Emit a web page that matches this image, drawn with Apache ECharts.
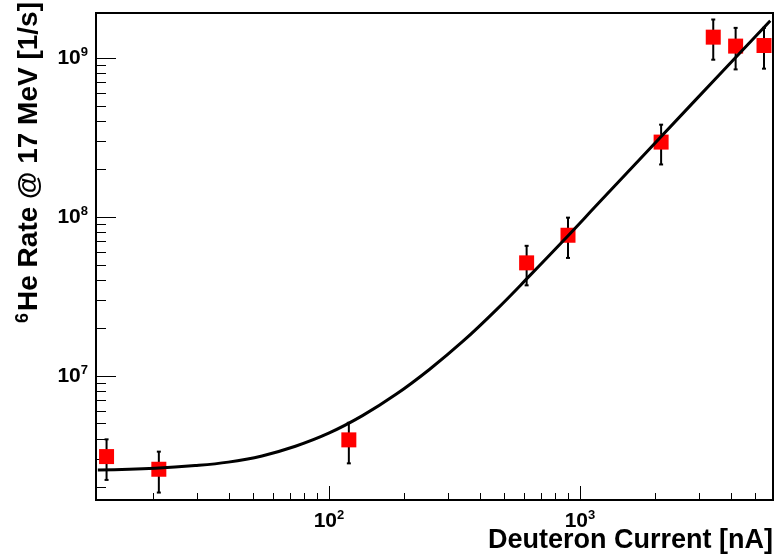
<!DOCTYPE html>
<html>
<head>
<meta charset="utf-8">
<script src="https://cdn.jsdelivr.net/npm/echarts@6/dist/echarts.min.js"></script>
<style>
html, body { margin: 0; padding: 0; background: #fff; }
#main { width: 776px; height: 560px; }
</style>
</head>
<body>
<div id="main"></div>
<script>
// measured points: deuteron current [nA] vs 6He rate [1/s]
const current = [13.0, 21.0, 120, 613, 896, 2105, 3396, 4170, 5410]
const rate = [3.10e6, 2.58e6, 3.95e6, 5.14e7, 7.67e7, 2.96e8, 1.355e9, 1.19e9, 1.20e9]
const rateLow = [2.21e6, 1.84e6, 2.81e6, 3.71e7, 5.52e7, 2.14e8, 9.77e8, 8.49e8, 8.58e8]
const rateHigh = [3.98e6, 3.33e6, 5.06e6, 6.58e7, 9.9e7, 3.81e8, 1.75e9, 1.55e9, 1.55e9]

// fit curve
const fitX = [12.0, 20.3, 29.3, 39.7, 54.1, 73.5, 99.8, 136, 185, 252, 342, 465, 631, 858, 1202, 2877, 5730]
const fitY = [2.55e6, 2.62e6, 2.72e6, 2.86e6, 3.13e6, 3.60e6, 4.35e6, 5.61e6, 7.64e6, 1.10e7, 1.65e7, 2.61e7, 4.27e7, 7.08e7, 1.25e8, 5.42e8, 1.72e9]

// axis ticks
const xMajor = [100, 1000]
const xMinor = [20, 30, 40, 50, 60, 70, 80, 90, 200, 300, 400, 500, 600, 700, 800, 900, 2000, 3000, 4000, 5000]
const yMajor = [1e7, 1e8, 1e9]
const yMinor = [2e6, 3e6, 4e6, 5e6, 6e6, 7e6, 8e6, 9e6, 2e7, 3e7, 4e7, 5e7, 6e7, 7e7, 8e7, 9e7, 2e8, 3e8, 4e8, 5e8, 6e8, 7e8, 8e8, 9e8]

const xRange = [11.8, 5875]
const yRange = [1.652e6, 1.923e9]

const font = 'Liberation Sans, Arial, sans-serif'
const powLabel = v => '{b|10}{s|' + Math.round(Math.log10(v)) + '}'
const labelRich = {
    b: { fontSize: 21, fontWeight: 'bold', fontFamily: font, color: '#000', lineHeight: 24 },
    s: { fontSize: 13, fontWeight: 'bold', fontFamily: font, color: '#000', lineHeight: 14, verticalAlign: 'top' }
}

const chart = echarts.init(document.getElementById('main'))

const baseAxis = {
    type: 'log',
    logBase: 10,
    axisLine: { show: false },
    splitLine: { show: false },
    minorTick: { show: false },
    minorSplitLine: { show: false }
}

chart.setOption({
    backgroundColor: '#fff',
    animation: false,
    grid: {
        left: 96, right: 3, top: 13, bottom: 60,
        outerBoundsMode: 'none',
        containLabel: false,
        show: true, borderColor: '#000', borderWidth: 2, backgroundColor: 'transparent'
    },
    xAxis: [
        Object.assign({}, baseAxis, {
            position: 'bottom',
            min: xRange[0], max: xRange[1],
            name: 'Deuteron Current [nA]',
            nameLocation: 'end',
            nameGap: 0,
            nameMoveOverlap: false,
            nameTextStyle: {
                fontSize: 27, fontWeight: 'bold', fontFamily: font, color: '#000',
                align: 'right', verticalAlign: 'top', padding: [27, 0, 0, 0]
            },
            axisTick: { show: true, inside: true, length: 14, customValues: xMajor, lineStyle: { color: '#000', width: 1 } },
            axisLabel: { customValues: xMajor, margin: 9, formatter: powLabel, rich: labelRich }
        }),
        Object.assign({}, baseAxis, {
            position: 'bottom',
            min: xRange[0], max: xRange[1],
            axisTick: { show: true, inside: true, length: 7, customValues: xMinor, lineStyle: { color: '#000', width: 1 } },
            axisLabel: { show: false }
        })
    ],
    yAxis: [
        Object.assign({}, baseAxis, {
            position: 'left',
            min: yRange[0], max: yRange[1],
            name: '{s|6}{t|He Rate @ 17 MeV [1/s]}',
            nameLocation: 'end',
            nameRotate: 90,
            nameGap: 11,
            nameMoveOverlap: false,
            nameTextStyle: {
                align: 'right', verticalAlign: 'bottom', padding: [0, 0, 52, 0],
                rich: {
                    t: { fontSize: 28, fontWeight: 'bold', fontFamily: font, color: '#000', lineHeight: 30 },
                    s: { fontSize: 18, fontWeight: 'bold', fontFamily: font, color: '#000', lineHeight: 18, verticalAlign: 'top', padding: [0, 2, 0, 0] }
                }
            },
            axisTick: { show: true, inside: true, length: 20, customValues: yMajor, lineStyle: { color: '#000', width: 1 } },
            axisLabel: { customValues: yMajor, margin: 8, formatter: powLabel, rich: labelRich }
        }),
        Object.assign({}, baseAxis, {
            position: 'left',
            min: yRange[0], max: yRange[1],
            axisTick: { show: true, inside: true, length: 10, customValues: yMinor, lineStyle: { color: '#000', width: 1 } },
            axisLabel: { show: false }
        })
    ],
    series: [
        {
            name: 'errors',
            type: 'custom',
            z: 2,
            data: current.map((x, i) => [x, rateLow[i], rateHigh[i]]),
            renderItem: function (params, api) {
                const lo = api.coord([api.value(0), api.value(1)])
                const hi = api.coord([api.value(0), api.value(2)])
                const cap = 2
                const st = { stroke: '#000', lineWidth: 2 }
                return {
                    type: 'group',
                    children: [
                        { type: 'line', shape: { x1: lo[0], y1: lo[1], x2: hi[0], y2: hi[1] }, style: st },
                        { type: 'line', shape: { x1: lo[0] - cap, y1: lo[1], x2: lo[0] + cap, y2: lo[1] }, style: st },
                        { type: 'line', shape: { x1: hi[0] - cap, y1: hi[1], x2: hi[0] + cap, y2: hi[1] }, style: st }
                    ]
                }
            }
        },
        {
            name: 'rate',
            type: 'scatter',
            z: 3,
            symbol: 'rect',
            symbolSize: 15,
            itemStyle: { color: '#ff0000', opacity: 1 },
            data: current.map((x, i) => [x, rate[i]])
        },
        {
            name: 'fit',
            type: 'line',
            z: 4,
            smooth: 0.4,
            showSymbol: false,
            lineStyle: { color: '#000', width: 3 },
            data: fitX.map((x, i) => [x, fitY[i]])
        }
    ]
})

window.addEventListener('resize', () => chart && chart.resize())
</script>
</body>
</html>
